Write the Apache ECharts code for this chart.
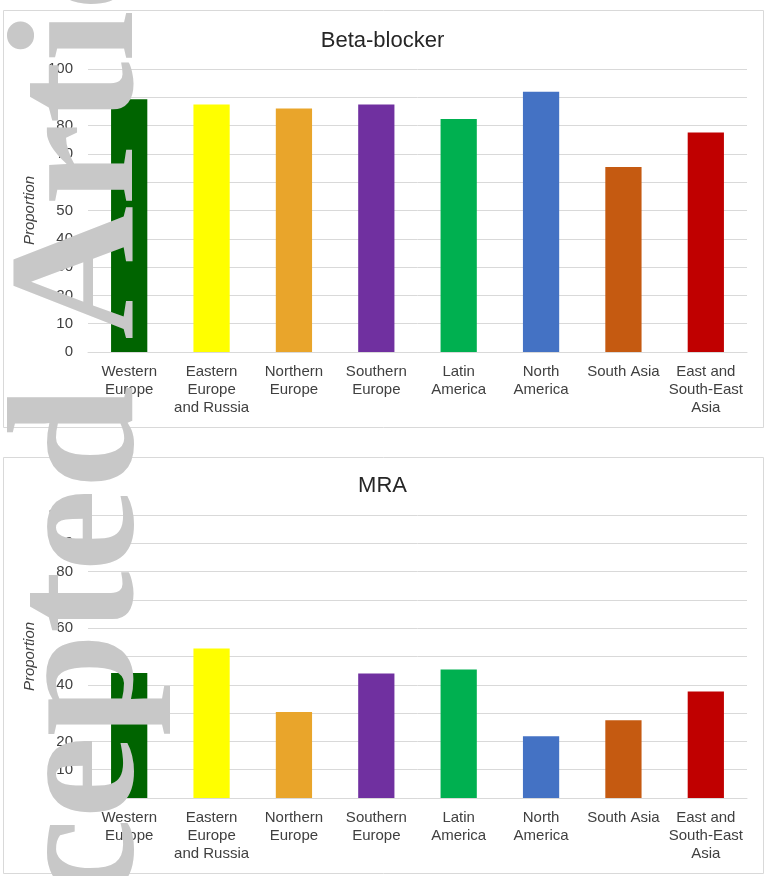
<!DOCTYPE html>
<html>
<head>
<meta charset="utf-8">
<script src="https://cdn.jsdelivr.net/npm/echarts@6/dist/echarts.min.js"></script>
<style>
  html, body { margin: 0; padding: 0; background: #ffffff; }
  #chart { width: 765px; height: 876px; }
</style>
</head>
<body>
<div id="chart"></div>
<script>
// Regions shown on the category axis of both panels
const regions = [
  'Western\nEurope',
  'Eastern\nEurope\nand Russia',
  'Northern\nEurope',
  'Southern\nEurope',
  'Latin\nAmerica',
  'North\nAmerica',
  'South Asia',
  'East and\nSouth-East\nAsia'
];

// Proportion of patients on each therapy, by region
const betaBlocker = [89.3, 87.5, 86.0, 87.5, 82.3, 92.0, 65.4, 77.6];
const mra = [44.2, 52.8, 30.4, 44.0, 45.4, 21.8, 27.5, 37.6];

// One colour per region
const regionColors = ['#006400', '#ffff00', '#e9a52b', '#7030a0', '#00b050', '#4472c4', '#c55a11', '#c00000'];

// Panel titles
const panelTitles = ['Beta-blocker', 'MRA'];

const FONT = '"Liberation Sans", Arial, sans-serif';
const TEXT = '#404040';
const GRID_LINE = '#d9d9d9';

function seriesData(values) {
  return values.map((v, i) => ({ value: v, itemStyle: { color: regionColors[i] } }));
}

function xAxisFor(gridIndex) {
  return {
    type: 'category',
    gridIndex: gridIndex,
    data: regions,
    axisTick: { show: false },
    axisLine: { lineStyle: { color: GRID_LINE, width: 1 } },
    axisLabel: {
      color: TEXT, fontFamily: FONT, fontSize: 15, lineHeight: 18,
      margin: 11, interval: 0
    }
  };
}

function yAxisFor(gridIndex) {
  return {
    type: 'value',
    gridIndex: gridIndex,
    min: 0, max: 100, interval: 10,
    name: 'Proportion',
    nameLocation: 'middle',
    nameGap: 41,
    nameTextStyle: { color: TEXT, fontFamily: FONT, fontSize: 15, fontStyle: 'italic' },
    axisLine: { show: false },
    axisTick: { show: false },
    axisLabel: { color: TEXT, fontFamily: FONT, fontSize: 15, margin: 15 },
    splitLine: { lineStyle: { color: GRID_LINE, width: 1 } }
  };
}

const chart = echarts.init(document.getElementById('chart'), null, { renderer: 'canvas' });

chart.setOption({
  animation: false,
  backgroundColor: '#ffffff',
  title: [
    { text: panelTitles[0], left: 'center', top: 25,
      textStyle: { fontFamily: FONT, fontSize: 22, fontWeight: 'normal', color: '#262626' } },
    { text: panelTitles[1], left: 'center', top: 470,
      textStyle: { fontFamily: FONT, fontSize: 22, fontWeight: 'normal', color: '#262626' } }
  ],
  grid: [
    { left: 88, right: 18, top: 69, height: 283 },
    { left: 88, right: 18, top: 515, height: 283 }
  ],
  xAxis: [xAxisFor(0), xAxisFor(1)],
  yAxis: [yAxisFor(0), yAxisFor(1)],
  series: [
    { type: 'bar', xAxisIndex: 0, yAxisIndex: 0, barWidth: '44%', data: seriesData(betaBlocker) },
    { type: 'bar', xAxisIndex: 1, yAxisIndex: 1, barWidth: '44%', data: seriesData(mra) }
  ],
  graphic: [
    // panel frames
    { type: 'rect', z: 0, silent: true,
      shape: { x: 3.5, y: 10.5, width: 760, height: 417 },
      style: { fill: 'none', stroke: GRID_LINE, lineWidth: 1 } },
    { type: 'rect', z: 0, silent: true,
      shape: { x: 3.5, y: 457.5, width: 760, height: 416 },
      style: { fill: 'none', stroke: GRID_LINE, lineWidth: 1 } },
    // vertical stamp along the left edge
    { type: 'text', z: 100, silent: true,
      x: 175, y: 1117, rotation: Math.PI / 2, scaleX: 1.03, scaleY: 1,
      style: {
        text: 'Accepted Article',
        font: 'bold 180px "Liberation Serif", "Times New Roman", serif',
        fill: '#c8c8c8',
        align: 'left',
        verticalAlign: 'bottom'
      } }
  ]
});
</script>
</body>
</html>
